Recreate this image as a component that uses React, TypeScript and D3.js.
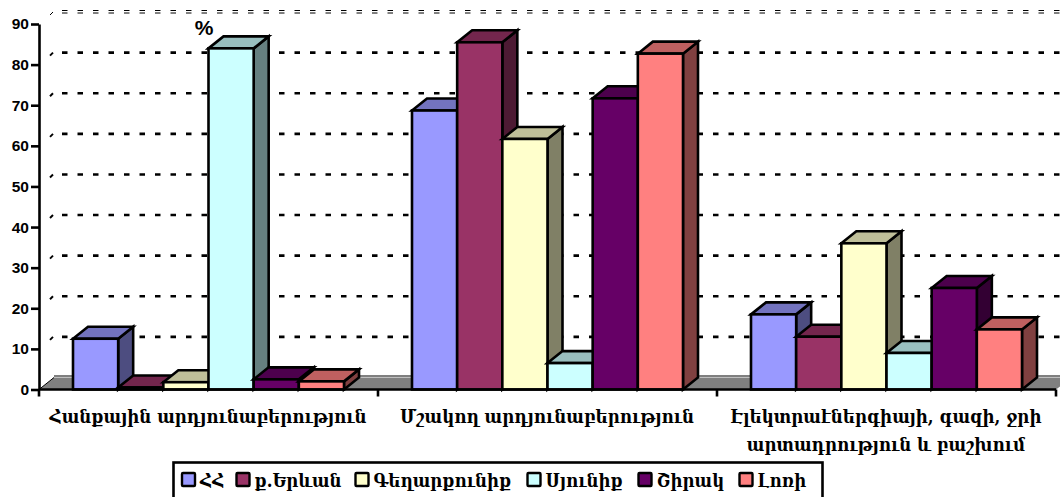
import React, { useEffect, useRef } from 'react';
import * as d3 from 'd3';

const categories = ['Հանքային արդյունաբերություն', 'Մշակող արդյունաբերություն', 'Էլեկտրաէներգիայի, գազի, ջրի|արտադրություն և բաշխում'];
const seriesNames = ['ՀՀ', 'ք.Երևան', 'Գեղարքունիք', 'Սյունիք', 'Շիրակ', 'Լոռի'];
const seriesColors = ['#9999ff', '#993366', '#ffffcc', '#ccffff', '#660066', '#ff8080'];
const armenia = [12.5, 68.7, 18.5];
const yerevan = [0.5, 85.5, 13];
const gegharkunik = [1.8, 61.7, 36];
const syunik = [84, 6.5, 9];
const shirak = [2.5, 71.7, 25];
const lori = [2, 82.7, 14.8];
const seriesValues = [armenia, yerevan, gegharkunik, syunik, shirak, lori];
const yTicks = [0, 10, 20, 30, 40, 50, 60, 70, 80, 90];
const legendWidths = [54.5, 119, 172, 111, 101, 70];

const serif = '"DejaVu Serif", serif';
const sans = '"Liberation Sans", Arial, sans-serif';

const App: React.FC = () => {
  const chartRef = useRef<SVGSVGElement | null>(null);

  useEffect(() => {
    const svg = d3.select(chartRef.current);
    svg.selectAll('*').remove();

    const depthX = 15;
    const depthY = 12;
    const x0 = d3.scaleBand<number>().domain([0, 1, 2]).range([39, 1056]);
    const x1 = d3.scaleBand<number>().domain(d3.range(6)).range([34, 305]);
    const y = d3.scaleLinear().domain([0, 90]).range([389.5, 24]);

    // back wall gridlines
    yTicks.slice(1).forEach(t => {
      const gy = y(t) - depthY;
      const top = t === 90;
      svg.append('line')
        .attr('x1', 62).attr('x2', 1060).attr('y1', top ? gy - 1.5 : gy).attr('y2', top ? gy - 1.5 : gy)
        .attr('stroke', '#000').attr('stroke-width', top ? 1 : 2.6).attr('stroke-dasharray', '5.5,10');
      if (top) {
        svg.append('line')
          .attr('x1', 62).attr('x2', 1060).attr('y1', gy + 1).attr('y2', gy + 1)
          .attr('stroke', '#000').attr('stroke-width', 1).attr('stroke-dasharray', '5.5,10');
      }
      svg.append('line')
        .attr('x1', 50).attr('x2', 53).attr('y1', gy + 3).attr('y2', gy)
        .attr('stroke', '#000').attr('stroke-width', top ? 1 : 2);
    });

    // floor
    const floorY = y(0);
    svg.append('line').attr('x1', 54).attr('x2', 1060).attr('y1', floorY - depthY - 1.5).attr('y2', floorY - depthY - 1.5)
      .attr('stroke', '#000').attr('stroke-width', 1);
    svg.append('path')
      .attr('d', `M39,${floorY}L${39 + depthX},${floorY - depthY}H1060V${floorY - 3}L1056,${floorY}Z`)
      .attr('fill', '#808080');
    svg.append('line').attr('x1', 39).attr('x2', 39 + depthX).attr('y1', floorY).attr('y2', floorY - depthY)
      .attr('stroke', '#000').attr('stroke-width', 1);

    // bars
    categories.forEach((_, c) => {
      seriesValues.forEach((values, s) => {
        const bx = x0(c)! + x1(s)!;
        const bw = x1.bandwidth();
        const by = y(values[c]);
        const base = d3.color(seriesColors[s])!.rgb();
        const shade = (k: number) => d3.rgb(base.r * k, base.g * k, base.b * k).formatHex();
        const g = svg.append('g').attr('stroke', '#000').attr('stroke-width', 2.6).attr('stroke-linejoin', 'miter');
        g.append('path')
          .attr('d', `M${bx + bw},${by}l${depthX},${-depthY}V${floorY - depthY}l${-depthX},${depthY}Z`)
          .attr('fill', shade(0.5));
        g.append('path')
          .attr('d', `M${bx},${by}l${depthX},${-depthY}h${bw}l${-depthX},${depthY}Z`)
          .attr('fill', shade(0.75));
        g.append('rect')
          .attr('x', bx).attr('y', by).attr('width', bw).attr('height', floorY - by)
          .attr('fill', seriesColors[s]);
      });
    });

    // y axis
    const yAxis = svg.append('g')
      .attr('transform', 'translate(39,0)')
      .call(d3.axisLeft(y).tickValues(yTicks).tickSize(8).tickPadding(2).tickSizeOuter(0));
    yAxis.selectAll('path, line').attr('stroke', '#000').attr('stroke-width', 2.6);
    yAxis.selectAll('text')
      .attr('fill', '#000')
      .style('font-family', sans).style('font-size', '15.5px').style('font-weight', 'bold');

    // x axis
    svg.append('line').attr('x1', 39).attr('x2', 1056).attr('y1', floorY).attr('y2', floorY)
      .attr('stroke', '#000').attr('stroke-width', 2.6);
    [39, 378, 717, 1056].forEach(tx => {
      svg.append('line').attr('x1', tx).attr('x2', tx).attr('y1', floorY).attr('y2', floorY + 7)
        .attr('stroke', '#000').attr('stroke-width', 2.6);
    });

    // category labels, squeezed sideways to the narrower glyphs of the original font
    categories.forEach((label, c) => {
      label.split('|').forEach((line, i) => {
        svg.append('text')
          .attr('transform', `translate(${x0(c)! + x0.bandwidth() / 2 - 0.5},${423 + i * 28}) scale(0.88,1)`)
          .attr('text-anchor', 'middle')
          .style('font-family', serif).style('font-size', '19px').style('font-weight', 'bold')
          .text(line);
      });
    });

    svg.append('text')
      .attr('x', 204).attr('y', 35).attr('text-anchor', 'middle')
      .style('font-family', sans).style('font-size', '21px').style('font-weight', 'bold')
      .text('%');

    // legend
    svg.append('rect').attr('x', 173.5).attr('y', 462.5).attr('width', 649).attr('height', 40)
      .attr('fill', '#fff').attr('stroke', '#000').attr('stroke-width', 2.6);
    let lx = 182;
    seriesNames.forEach((name, i) => {
      svg.append('rect').attr('x', lx).attr('y', 473).attr('width', 13).attr('height', 13)
        .attr('fill', seriesColors[i]).attr('stroke', '#000').attr('stroke-width', 2.4).attr('rx', 1);
      svg.append('text')
        .attr('transform', `translate(${lx + 18},487) scale(0.9,1)`)
        .style('font-family', serif).style('font-size', '18.5px').style('font-weight', 'bold')
        .text(name);
      lx += legendWidths[i];
    });
  }, []);

  return <svg ref={chartRef} width={1060} height={497} style={{ position: 'absolute', left: 0, top: 0, background: '#fff' }} />;
};

export default App;
